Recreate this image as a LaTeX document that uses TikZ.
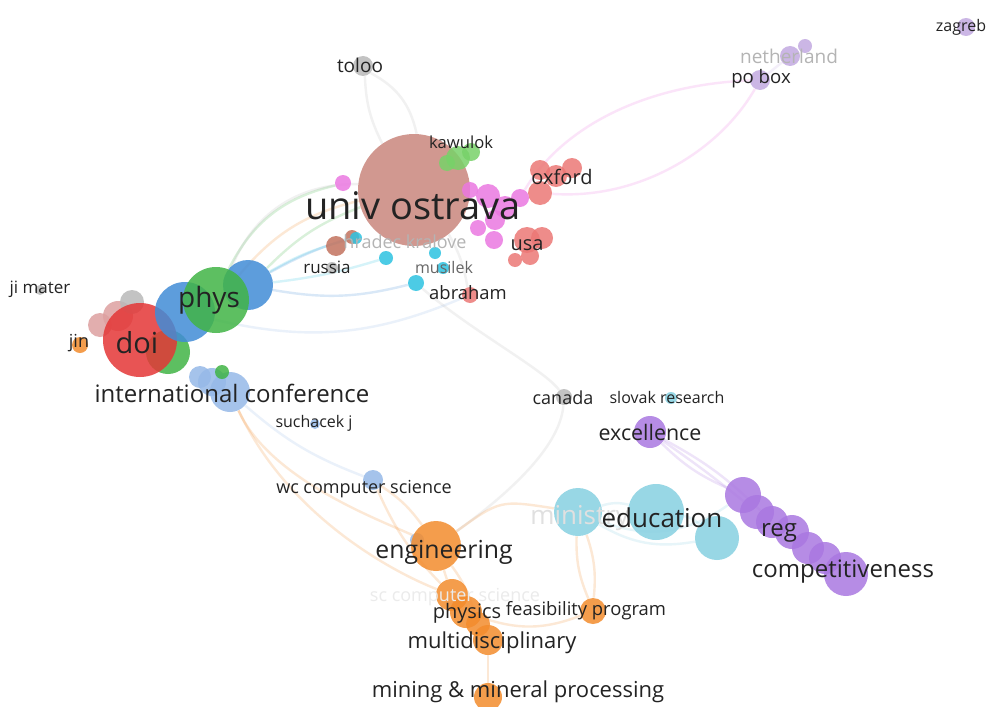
\documentclass[tikz,border=0pt]{standalone}
\usepackage{fontspec}
\setmainfont{Open Sans}
\pgfdeclarelayer{bg}
\pgfdeclarelayer{back}
\pgfsetlayers{back,bg,main}
\definecolor{cBrown}{RGB}{202,135,125}
\definecolor{cDBrown}{RGB}{195,115,95}
\definecolor{cRed}{RGB}{228,55,55}
\definecolor{cSalmon}{RGB}{236,120,118}
\definecolor{cGreen}{RGB}{65,180,70}
\definecolor{cLGreen}{RGB}{120,210,105}
\definecolor{cBlue}{RGB}{65,140,215}
\definecolor{cLBlue}{RGB}{150,185,232}
\definecolor{cCyan}{RGB}{45,195,225}
\definecolor{cLCyan}{RGB}{135,208,225}
\definecolor{cPurple}{RGB}{170,120,225}
\definecolor{cLPurple}{RGB}{195,170,225}
\definecolor{cOrange}{RGB}{243,140,45}
\definecolor{cPink}{RGB}{235,120,225}
\definecolor{cGray}{RGB}{185,185,185}
\definecolor{cRose}{RGB}{222,160,160}
\definecolor{cText}{RGB}{35,35,35}
\definecolor{cFaint}{RGB}{180,180,180}
\tikzset{
  bub/.style 2 args={circle, inner sep=0pt, fill=#1, fill opacity=0.85, minimum size=#2*1pt},
  lab/.style={inner sep=0pt, text=cText, font=\fontsize{#1}{#1}\selectfont},
  flab/.style={inner sep=0pt, text=cFaint, font=\fontsize{#1}{#1}\selectfont},
  ed/.style={line width=1.2pt, draw=#1, draw opacity=0.2},
}
\begin{document}
\begin{tikzpicture}[x=0.5pt, y=-0.5pt]
\begin{pgfonlayer}{back}
\fill[white] (0,0) rectangle (999,706);
\end{pgfonlayer}
\useasboundingbox (0,0) rectangle (999,706);
% ---------- bubbles ----------
% gray
\node[bub={cGray}{10}] (toloo) at (363,66) {};
\node[bub={cGray}{8}] (canada) at (564,397) {};
\node[bub={cGray}{6}] (russiaD) at (332,268) {};
\node[bub={cGray}{5}] (jimaterD) at (40,290) {};
% brown
\node[bub={cBrown}{56}] (univ) at (414,190) {};
\node[bub={cDBrown}{10}] (br1) at (336,246) {};
\node[bub={cDBrown}{7}] (br2) at (352,237) {};
% green
\node[bub={cLGreen}{12}] (kaw1) at (458,158) {};
\node[bub={cLGreen}{9}] (kaw2) at (471,152) {};
\node[bub={cLGreen}{8}] (kaw3) at (447,163) {};
% red/doi group
\node[bub={cRose}{15}] (rose1) at (118,316) {};
\node[bub={cGray}{12}] (gr1) at (132,302) {};
\node[bub={cRose}{12}] (rose2) at (100,325) {};
\node[bub={cGreen}{22}] (doiG) at (168,352) {};
\node[bub={cRed}{37}] (doi) at (140,340) {};
\node[bub={cBlue}{30}] (physB1) at (185,312) {};
\node[bub={cBlue}{25}] (physB2) at (248,285) {};
\node[bub={cGreen}{33}] (phys) at (216,300) {};
% salmon
\node[bub={cSalmon}{10}] (ox1) at (540,170) {};
\node[bub={cSalmon}{11}] (ox2) at (556,176) {};
\node[bub={cSalmon}{10}] (ox3) at (572,168) {};
\node[bub={cSalmon}{12}] (ox4) at (540,193) {};
\node[bub={cSalmon}{13}] (usa1) at (527,240) {};
\node[bub={cSalmon}{11}] (usa2) at (542,238) {};
\node[bub={cSalmon}{9}] (usa3) at (530,256) {};
\node[bub={cSalmon}{7}] (usa4) at (515,260) {};
\node[bub={cSalmon}{8}] (abr) at (470,295) {};
% pink
\node[bub={cPink}{8}] (p1) at (343,183) {};
\node[bub={cPink}{12}] (p2) at (488,196) {};
\node[bub={cPink}{11}] (p3) at (505,207) {};
\node[bub={cPink}{9}] (p4) at (520,198) {};
\node[bub={cPink}{10}] (p5) at (495,220) {};
\node[bub={cPink}{8}] (p6) at (478,228) {};
\node[bub={cPink}{9}] (p7) at (494,240) {};
\node[bub={cPink}{8}] (p8) at (470,190) {};
% cyan
\node[bub={cCyan}{6}] (c1) at (356,238) {};
\node[bub={cCyan}{7}] (c2) at (386,258) {};
\node[bub={cCyan}{8}] (c3) at (416,283) {};
\node[bub={cCyan}{6}] (c4) at (443,268) {};
\node[bub={cCyan}{6}] (c5) at (435,253) {};
\node[bub={cLCyan}{6}] (slovak) at (671,398) {};
% light blue
\node[bub={cLBlue}{11}] (ic3) at (200,377) {};
\node[bub={cLBlue}{14}] (ic2) at (212,382) {};
\node[bub={cLBlue}{20}] (ic1) at (230,392) {};
\node[bub={cGreen}{7}] (icG) at (222,372) {};
\node[bub={cLBlue}{5}] (such) at (315,424) {};
\node[bub={cLBlue}{10}] (wc) at (373,480) {};
\node[bub={cLBlue}{7}] (wc2) at (417,540) {};
% orange
\node[bub={cOrange}{8}] (jin) at (80,345) {};
\node[bub={cOrange}{25}] (eng) at (436,546) {};
\node[bub={cOrange}{16}] (ph1) at (452,595) {};
\node[bub={cOrange}{16}] (ph2) at (466,612) {};
\node[bub={cOrange}{12}] (ph3) at (478,624) {};
\node[bub={cOrange}{15}] (multi) at (488,640) {};
\node[bub={cOrange}{13}] (feas) at (593,611) {};
\node[bub={cOrange}{14}] (mining) at (488,697) {};
% light cyan (education)
\node[bub={cLCyan}{24}] (ed1) at (578,512) {};
\node[bub={cLCyan}{28}] (ed2) at (656,512) {};
\node[bub={cLCyan}{22}] (ed3) at (717,538) {};
% purple
\node[bub={cPurple}{16}] (exc) at (650,432) {};
\node[bub={cPurple}{18}] (reg1) at (743,495) {};
\node[bub={cPurple}{17}] (reg2) at (757,512) {};
\node[bub={cPurple}{16}] (reg3) at (772,522) {};
\node[bub={cPurple}{17}] (reg4) at (792,532) {};
\node[bub={cPurple}{16}] (reg5) at (808,548) {};
\node[bub={cPurple}{16}] (reg6) at (825,558) {};
\node[bub={cPurple}{22}] (reg7) at (846,574) {};
% light purple
\node[bub={cLPurple}{10}] (pobox) at (760,80) {};
\node[bub={cLPurple}{10}] (neth1) at (790,56) {};
\node[bub={cLPurple}{7}] (neth2) at (805,46) {};
\node[bub={cLPurple}{9}] (zagreb) at (966,27) {};
% ---------- connectors ----------
\begin{pgfonlayer}{bg}
\draw[ed=cGray] (toloo) to[bend right=12] (univ);
\draw[ed=cGray] (toloo) to[bend left=25] (univ);
\draw[ed=cPink] (pobox) .. controls (640,85) and (560,130) .. (p4);
\draw[ed=cPink] (pobox) .. controls (720,150) and (640,200) .. (ox4);
\draw[ed=cLPurple] (pobox) -- (neth1);
\draw[ed=cGreen] (physB2) to[bend left=12] (univ);
\draw[ed=cGreen] (phys) to[bend left=25] (p1);
\draw[ed=cBlue] (physB2) to[bend left=5] (br2);
\draw[ed=cCyan] (physB2) to[bend left=8] (c1);
\draw[ed=cCyan] (physB2) to[bend right=5] (c2);
\draw[ed=cBlue] (physB2) to[bend right=12] (c3);
\draw[ed=cOrange] (phys) to[bend left=18] (univ);
\draw[ed=cGray] (phys) to[bend left=35] (univ);
\draw[ed=cLBlue] (physB1) to[bend right=18] (abr);
\draw[ed=cGray] (c3) .. controls (470,330) and (545,370) .. (canada);
\draw[ed=cGray] (canada) .. controls (560,450) and (500,500) .. (eng);
\draw[ed=cGray] (univ) to[bend left=10] (abr);
\draw[ed=cOrange] (ic1) .. controls (270,480) and (380,520) .. (eng);
\draw[ed=cOrange] (ic1) .. controls (290,520) and (400,575) .. (ph1);
\draw[ed=cLBlue] (ic1) to[bend right=10] (wc);
\draw[ed=cOrange] (wc) to[bend left=10] (eng);
\draw[ed=cOrange] (wc) to[bend right=10] (ph1);
\draw[ed=cOrange] (eng) .. controls (500,500) .. (ed1);
\draw[ed=cOrange] (eng) -- (ph1);
\draw[ed=cOrange] (eng) to[bend left=10] (ph3);
\draw[ed=cOrange] (ed1) to[bend right=12] (feas);
\draw[ed=cOrange] (ed1) to[bend left=12] (feas);
\draw[ed=cOrange] (feas) to[bend left=20] (ph2);
\draw[ed=cOrange] (multi) -- (mining);
\draw[ed=cLCyan] (ed1) to[bend right=20] (ed3);
\draw[ed=cLCyan] (ed1) to[bend left=15] (ed2);
\draw[ed=cLCyan] (ed2) to[bend left=15] (ed3);
\draw[ed=cLCyan] (ed1) to[bend right=28] (reg1);
\draw[ed=cPurple] (exc) to[bend right=10] (reg1);
\draw[ed=cPurple] (exc) to[bend left=8] (reg3);
\draw[ed=cPurple] (exc) to[bend left=2] (reg2);
\end{pgfonlayer}
% ---------- labels ----------
\node[lab=9.5] (tToloo) at (360,65) {toloo};
\node[lab=8.3] (tKaw) at (461,142) {kawulok};
\node[flab=9] (tHradec) at (405,242) {hradec kralove};
\node[lab=19] (tUniv) at (413,206) {univ ostrava};
\node[lab=10] (tOx) at (562,177) {oxford};
\node[lab=10] (tUsa) at (527,245) {usa};
\node[lab=8.5] (tRussia) at (327,267) {russia};
\node[lab=8, text=black!60] (tMusilek) at (444,267) {musilek};
\node[lab=9.2] (tAbr) at (468,293) {abraham};
\node[lab=8.5] (tJimater) at (40,289) {ji mater};
\node[lab=14] (tPhys) at (209,300) {phys};
\node[lab=14.5] (tDoi) at (137,343) {doi};
\node[lab=9] (tJin) at (79,343) {jin};
\node[lab=12] (tIc) at (232,393) {international conference};
\node[lab=8] (tSuch) at (314,423) {suchacek j};
\node[lab=9] (tCanada) at (563,398) {canada};
\node[lab=8] (tSlovak) at (667,397) {slovak research};
\node[lab=10.7] (tExc) at (650,432) {excellence};
\node[lab=9] (tWc) at (364,489) {wc computer science};
\node[flab=13, text=black!12, anchor=west] (tMin) at (530,518) {ministry};
\node[lab=13] (tEdu) at (662,518) {education};
\node[lab=12] (tReg) at (779,533) {reg};
\node[lab=12] (tComp) at (843,572) {competitiveness};
\node[lab=12.4] (tEng) at (444,552) {engineering};
\node[flab=9, text=black!8] (tSc) at (455,597) {sc computer science};
\node[lab=10] (tPhysics) at (467,613) {physics};
\node[lab=9.2] (tFeas) at (586,611) {feasibility program};
\node[lab=11] (tMulti) at (492,643) {multidisciplinary};
\node[lab=11] (tMining) at (518,692) {mining \& mineral processing};
\node[lab=9.3] (tPobox) at (761,79) {po box};
\node[flab=9.5] (tNeth) at (789,56) {netherland};
\node[lab=8] (tZagreb) at (961,27) {zagreb};
\end{tikzpicture}
\end{document}
